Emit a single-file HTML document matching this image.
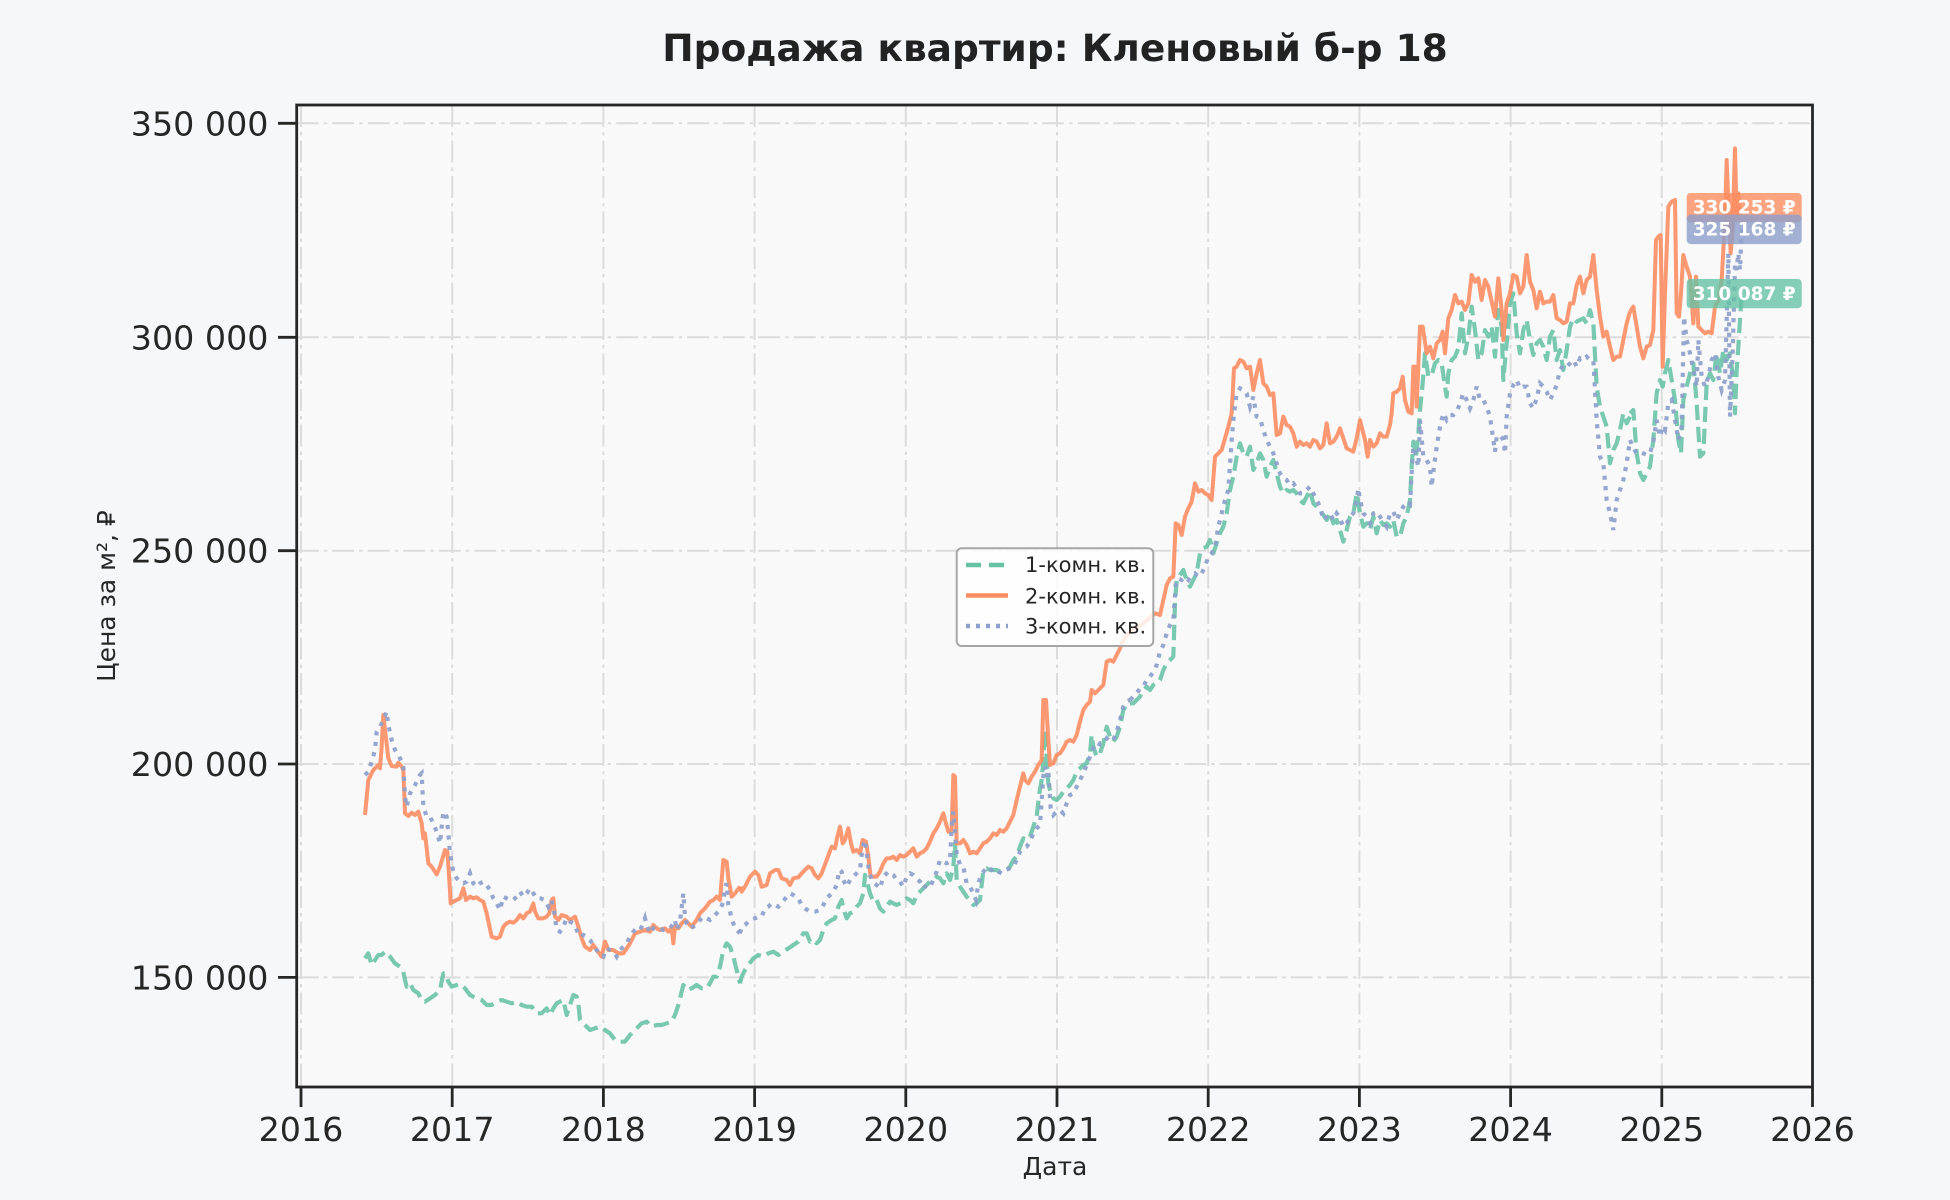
<!DOCTYPE html>
<html><head><meta charset="utf-8"><style>
html,body{margin:0;padding:0;background:#f5f7fa;}
svg{display:block;}
text{font-family:"DejaVu Sans","Liberation Sans",sans-serif;}
</style></head><body>
<svg width="1950" height="1200" viewBox="0 0 1950 1200" xmlns="http://www.w3.org/2000/svg">
<rect x="0" y="0" width="1950" height="1200" fill="#f5f7fa"/>
<rect x="296.7" y="105" width="1515.8" height="982" fill="#f9f9f9"/>
<!-- grid -->
<g stroke="#dcdcdc" stroke-width="2" stroke-dasharray="22 5 3.5 5" fill="none">
<line x1="296.7" x2="1812.5" y1="123.3" y2="123.3"/>
<line x1="296.7" x2="1812.5" y1="337.3" y2="337.3"/>
<line x1="296.7" x2="1812.5" y1="550.7" y2="550.7"/>
<line x1="296.7" x2="1812.5" y1="764" y2="764"/>
<line x1="296.7" x2="1812.5" y1="977.4" y2="977.4"/>
<line x1="301" x2="301" y1="105" y2="1087"/>
<line x1="452.2" x2="452.2" y1="105" y2="1087"/>
<line x1="603.4" x2="603.4" y1="105" y2="1087"/>
<line x1="754.6" x2="754.6" y1="105" y2="1087"/>
<line x1="905.8" x2="905.8" y1="105" y2="1087"/>
<line x1="1057" x2="1057" y1="105" y2="1087"/>
<line x1="1208.2" x2="1208.2" y1="105" y2="1087"/>
<line x1="1359.4" x2="1359.4" y1="105" y2="1087"/>
<line x1="1510.6" x2="1510.6" y1="105" y2="1087"/>
<line x1="1661.8" x2="1661.8" y1="105" y2="1087"/>
</g>

<!-- GREEN 1-комн -->
<g fill="none" stroke="#66c2a5" stroke-opacity="0.88" stroke-width="12.5" stroke-dasharray="46 20" stroke-linejoin="round">
<polyline transform="translate(340,680) scale(0.333333)" points="75,835 85,820 95,855 105,840 115,825 125,825 135,815 150,830 165,850 180,860 190,875 195,900 200,920 210,910 220,930 235,940 245,960 255,965 270,955 285,945 300,930 310,880 318,885 325,905 335,920 350,915 360,912 375,925 390,945 410,955 425,960 440,975 455,975 470,965 485,960 500,965 515,970 530,965 545,975 560,980 575,980 590,1000 605,1000 620,985 630,1005 640,985 650,970 660,965 670,960 680,1005 690,975 700,945 710,950 715,970 720,1020 735,1035 750,1050 765,1045 780,1040 795,1050 810,1060 825,1080 840,1085 855,1085 870,1065 890,1045 905,1030 920,1025 935,1040 950,1035 965,1035 980,1030 995,1025 1005,1005 1015,975 1025,935 1030,915 1040,930 1055,925 1070,915 1085,925 1100,925 1110,910 1120,890 1130,890 1140,860 1150,810 1160,790 1170,800 1180,830 1190,870 1200,910"/>
<polyline transform="translate(720,640) scale(0.333333)" points="60,1030 65,1010 75,990 85,975 100,955 115,945 130,950 145,940 160,935 175,945 190,935 205,925 220,915 235,905 250,880 260,880 270,905 280,900 290,910 300,900 310,870 320,850 335,840 345,835 355,800 365,780 370,805 380,835 390,820 400,815 410,800 420,790 430,760 435,705 440,720 450,760 460,785 470,780 480,805 490,815 500,800 510,785 520,790 530,795 540,790 550,785 560,775 570,780 580,790 590,765 600,755 610,745 620,735 630,725 640,720 650,710 660,715 670,730 680,700 690,720 700,680 705,610 710,720 720,740 730,755 740,770 750,780 760,795 770,790 780,780 790,690 800,685 810,690 820,690 830,690 840,695 850,690 860,690 870,680 880,660 890,650 900,620 910,595 920,600 930,590 940,560 950,530 958,460 965,420 970,360 975,270 980,360 985,430 990,450 1000,475 1010,480 1020,470 1030,455 1040,445 1050,435 1060,420 1070,395 1080,385 1090,375 1100,370 1110,340 1115,285 1120,320 1130,350 1140,340 1150,310 1160,260 1170,290 1180,305 1190,290 1200,260 1210,210 1220,195 1230,190"/>
<polyline transform="translate(1130,260) scale(0.333333)" points="0,1330 10,1330 20,1320 30,1310 40,1290 50,1280 60,1290 70,1275 80,1270 90,1260 100,1230 110,1210 120,1200 130,1190 135,1030 140,960 150,945 160,930 170,960 180,980 190,960 200,940 210,880 220,865 230,860 240,840 250,880 260,850 270,820 280,800 290,760 300,690 310,650 320,590 330,550 340,580 350,590 360,560 370,630 380,610 390,580 400,600 410,650 420,620 430,600 440,640 450,680 460,700 470,690 480,695 490,690 500,700 510,720 520,730 530,710 540,690 550,730 560,740 570,750 580,765 590,780 600,760 610,790 620,780 630,810 640,845 650,810 660,770 670,760 680,700 690,760 700,800 710,790 720,810 730,770 740,820 750,780 760,795 770,790 780,800 790,780 800,830 810,830 820,790 830,770 840,720 845,620 850,545 858,590 865,520 870,450 878,370 885,280 895,350 905,345 915,310 925,300 935,310 945,380 950,410 955,340 965,300 975,290 985,265 995,160 1005,280 1015,230 1025,140 1035,210 1045,300 1055,280 1065,210 1075,230 1085,200 1095,290 1105,150 1115,200 1120,360 1130,250 1140,130 1150,100 1160,220 1170,280 1180,210 1190,180 1200,240 1210,285 1220,250 1230,240 1240,260 1250,300 1260,230 1270,210 1280,300 1290,270 1300,330 1310,270 1320,200 1330,175 1340,185 1350,180 1360,175 1370,190 1380,150 1390,190 1400,380 1410,440 1420,470 1430,500 1440,610 1450,570 1460,550 1470,510 1480,460 1490,490 1500,470"/>
<polyline transform="translate(1480,120) scale(0.333333)" points="450,880 460,870 470,1000 480,1060 490,1080 500,1060 510,1040 520,960 530,820 540,780 548,800 555,760 565,720 575,780 585,840 595,960 603,1000 610,840 620,800 630,760 640,730 650,850 660,1010 670,1000 680,790 690,760 700,780 710,700 720,760 730,690 740,720 750,700 760,780 765,880 770,750 775,680 780,600 785,521"/>
</g>

<!-- ORANGE 2-комн -->
<g fill="none" stroke="#fc8d62" stroke-opacity="0.9" stroke-width="12" stroke-linejoin="round">
<polyline transform="translate(340,680) scale(0.333333)" points="75,405 85,300 100,270 115,255 120,265 125,200 130,105 135,150 145,235 155,258 170,260 175,248 185,260 190,270 195,400 205,408 215,398 225,405 235,395 245,430 250,475 255,460 265,550 275,560 290,583 300,560 315,510 322,515 328,600 332,670 340,665 350,660 360,655 370,625 378,660 390,650 400,655 410,652 420,660 430,665 440,700 455,770 470,775 480,770 490,740 500,730 510,725 520,728 530,720 540,705 550,715 560,700 570,695 580,670 585,695 595,715 610,715 620,710 628,700 635,660 640,655 645,710 655,720 665,705 680,710 690,720 705,710 715,740 725,775 735,800 750,810 760,795 770,810 785,830 795,785 805,810 820,810 835,820 850,820 860,805 870,790 885,760 900,755 915,750 930,755 940,735 950,745 960,750 975,745 985,755 995,745 1000,790 1005,740 1015,745 1025,730 1035,720 1045,730 1055,740 1070,720 1080,700 1095,685 1110,665 1120,660 1130,650 1140,660 1150,540 1160,545 1165,595 1175,650 1185,640 1200,620"/>
<polyline transform="translate(720,640) scale(0.333333)" points="60,740 65,755 75,740 90,710 105,695 115,705 125,740 140,735 150,700 165,690 175,690 185,715 200,720 210,735 220,715 235,712 245,700 255,690 265,680 275,685 285,705 295,715 305,700 320,660 335,620 345,625 352,590 360,560 368,610 375,600 385,565 393,610 400,635 410,630 420,640 428,600 438,605 445,650 452,710 460,710 470,710 480,695 490,670 500,655 510,655 520,650 530,660 540,645 550,650 560,645 570,635 580,625 590,650 600,640 610,635 620,625 630,605 640,580 650,565 660,545 670,520 675,540 685,575 695,570 700,405 705,410 710,610 720,610 730,600 740,615 750,640 760,635 770,640 780,625 790,610 800,605 810,595 820,580 830,585 840,570 850,575 860,565 870,545 880,525 890,480 900,440 910,400 915,420 925,430 935,410 945,395 955,375 965,360 970,180 978,180 985,300 990,375 1000,370 1010,345 1020,340 1030,325 1040,305 1050,300 1060,305 1070,285 1080,245 1090,210 1100,195 1110,185 1115,150 1125,160 1135,150 1145,140 1150,135 1160,65 1170,60 1180,65 1190,45 1200,25 1210,0 1230,-24"/>
<polyline transform="translate(1130,260) scale(0.333333)" points="0,1116 40,1090 75,1060 90,1065 100,1020 110,975 120,955 130,950 137,790 145,795 155,825 165,770 175,745 185,725 195,670 205,695 215,690 225,700 235,705 245,720 255,590 265,580 275,570 285,535 295,500 305,460 312,325 320,320 330,300 340,305 350,325 360,320 370,390 380,340 390,300 400,370 410,380 420,405 430,400 440,525 450,520 460,470 470,495 480,500 490,520 500,560 510,545 520,555 530,550 540,560 550,540 560,545 570,565 580,555 590,490 600,550 610,545 620,530 630,505 640,535 650,565 660,570 670,575 680,535 690,480 700,520 705,540 713,590 720,540 730,560 740,550 750,520 760,530 770,530 780,495 785,460 790,400 800,395 810,385 818,350 825,420 835,455 845,460 850,320 855,320 860,440 870,200 878,200 890,280 900,260 910,295 920,250 930,240 938,215 945,280 955,175 965,150 975,105 985,130 995,125 1005,150 1015,130 1025,45 1035,65 1045,55 1055,120 1065,60 1075,80 1085,125 1095,170 1105,55 1115,150 1120,240 1130,130 1140,100 1150,45 1160,50 1170,100 1180,80 1190,-15 1200,65 1210,90 1220,145 1230,95 1240,130 1250,125 1260,125 1270,105 1280,175 1290,180 1300,190 1310,185 1320,130 1330,130 1340,75 1350,50 1360,100 1370,60 1380,50 1390,-15 1400,90 1410,170 1420,230 1430,215 1440,260 1450,300 1460,290 1470,290 1480,240 1490,190 1500,155"/>
<polyline transform="translate(1480,120) scale(0.333333)" points="450,575 460,560 470,620 480,680 490,715 500,680 510,675 520,630 528,360 535,350 542,345 548,740 555,520 565,260 575,245 585,240 590,580 597,590 603,520 610,405 620,440 630,470 640,610 648,470 655,620 665,630 675,640 685,635 695,640 705,560 715,540 725,480 735,300 740,120 745,250 752,400 758,330 765,85 770,300 775,220 780,280 785,263"/>
</g>

<!-- BLUE 3-комн -->
<g fill="none" stroke="#8da0cb" stroke-opacity="0.92" stroke-width="12.5" stroke-dasharray="12.5 19">
<polyline transform="translate(340,680) scale(0.333333)" points="75,285 85,275 95,245 105,210 110,155 120,140 130,120 140,95 145,135 155,180 165,210 175,225 185,245 190,260 195,350 200,380 210,340 220,325 230,305 240,285 245,280 250,380 260,410 270,410 280,430 290,455 300,490 305,440 310,395 320,410 325,460 330,520 340,575 350,595 360,605 370,610 380,605 390,580 400,610 410,620 420,610 430,605 440,615 450,630 460,655 470,670 480,690 490,650 500,655 510,660 520,660 530,650 540,635 550,650 560,640 570,625 580,640 590,655 600,655 615,660 625,680 635,660 645,710 650,750 660,755 670,740 680,715 690,725 700,730 710,750 720,770 730,765 740,770 750,780 760,795 770,810 780,825 790,830 800,805 810,810 820,815 830,830 840,810 850,800 860,790 870,770 880,755 890,745 900,750 910,730 915,715 920,735 930,760 940,745 950,750 960,745 970,750 980,750 990,745 1000,730 1005,720 1010,750 1020,725 1030,640 1035,710 1040,730 1050,745 1060,740 1070,735 1080,720 1090,710 1100,715 1110,720 1120,710 1130,700 1140,690 1150,665 1155,625 1160,610 1165,675 1175,715 1185,745 1200,760"/>
<polyline transform="translate(720,640) scale(0.333333)" points="60,880 65,860 75,855 90,840 105,835 115,830 125,830 135,805 145,800 155,790 165,795 175,800 185,790 200,770 210,760 220,765 235,775 245,795 255,805 270,815 285,815 300,810 310,795 320,775 330,765 340,755 350,735 358,690 365,695 370,720 380,740 390,720 400,710 410,700 420,690 428,620 435,600 440,640 448,700 458,725 470,735 480,745 490,710 505,695 520,705 530,720 540,725 550,740 560,710 570,700 580,705 590,715 600,725 610,745 620,735 630,740 640,720 650,695 660,660 670,665 680,670 690,665 695,560 700,515 705,580 710,640 720,675 730,680 740,730 750,740 760,760 768,780 775,730 785,700 795,690 805,680 815,690 825,685 835,695 845,700 855,690 870,685 880,680 890,660 900,635 910,625 920,620 930,605 940,580 950,565 960,555 970,410 975,380 980,410 985,390 992,505 1000,525 1010,515 1020,510 1030,520 1040,490 1050,465 1060,460 1070,440 1080,420 1090,400 1100,375 1110,350 1120,325 1130,330 1140,310 1150,310 1160,295 1170,305 1180,300 1190,275 1200,240 1210,200 1220,185 1230,180"/>
<polyline transform="translate(1130,260) scale(0.333333)" points="0,1320 10,1310 20,1300 30,1285 40,1280 50,1260 60,1250 70,1235 80,1215 90,1175 100,1155 110,1120 120,1095 130,1080 137,975 145,955 155,960 165,950 175,960 185,945 195,940 205,950 215,940 225,920 235,890 245,880 255,860 265,800 275,760 285,720 295,690 305,540 312,460 320,400 330,385 340,390 350,400 360,440 370,410 380,470 390,475 400,510 410,540 420,560 430,580 440,610 450,640 460,655 470,660 480,675 490,670 500,685 510,700 520,700 530,690 540,680 550,700 560,720 570,740 580,780 590,770 600,760 610,780 620,760 630,775 640,800 650,790 660,770 670,760 680,720 685,685 690,720 700,760 710,770 720,790 730,760 740,755 750,770 760,785 770,800 780,760 790,755 800,780 810,760 820,740 830,730 840,735 845,640 850,560 858,590 865,620 870,480 880,590 890,600 900,620 905,680 912,620 920,560 930,500 940,460 950,480 960,465 970,465 980,455 990,430 1000,400 1010,420 1020,445 1030,420 1040,380 1050,420 1060,420 1070,440 1080,470 1090,540 1095,575 1100,530 1110,525 1120,540 1125,580 1130,470 1140,400 1150,375 1160,360 1170,385 1180,380 1190,380 1200,430 1210,445 1220,415 1230,370 1240,380 1250,395 1260,420 1270,400 1280,375 1290,330 1300,315 1310,320 1320,310 1330,300 1340,320 1350,295 1360,300 1370,290 1380,300 1390,300 1400,480 1410,590 1420,610 1430,720 1440,760 1450,810 1460,720 1470,690 1480,660 1490,610 1500,540"/>
<polyline transform="translate(1480,120) scale(0.333333)" points="450,960 460,985 470,1000 480,995 490,1000 500,1005 510,1000 520,965 530,900 540,950 548,920 555,930 565,850 575,840 585,900 595,960 605,920 612,590 620,660 630,700 640,750 650,800 655,660 665,770 675,800 685,770 695,720 705,700 715,770 725,810 735,780 740,600 745,400 750,890 758,700 765,430 770,450 775,400 780,450 785,328"/>
</g>

<!-- annotation boxes -->
<rect x="1686.7" y="193" width="115" height="29.3" rx="4" fill="#fc8d62" fill-opacity="0.8"/>
<text x="1692.7" y="213.5" font-size="18.5" font-weight="bold" fill="#ffffff">330 253 ₽</text>
<rect x="1686.7" y="214.6" width="115" height="29.5" rx="4" fill="#8da0cb" fill-opacity="0.82"/>
<text x="1692.7" y="235.5" font-size="18.5" font-weight="bold" fill="#ffffff">325 168 ₽</text>
<rect x="1686.7" y="279" width="115" height="29.3" rx="4" fill="#66c2a5" fill-opacity="0.8"/>
<text x="1692.7" y="300" font-size="18.5" font-weight="bold" fill="#ffffff">310 087 ₽</text>

<!-- legend -->
<rect x="956.7" y="548.3" width="196.6" height="97.7" rx="5" fill="#ffffff" fill-opacity="0.82" stroke="#a6a6a6" stroke-width="2"/>
<line x1="966" x2="1008" y1="565" y2="565" stroke="#66c2a5" stroke-width="4.5" stroke-dasharray="15 8"/>
<line x1="966" x2="1008" y1="595.5" y2="595.5" stroke="#fc8d62" stroke-width="4.5"/>
<line x1="966" x2="1008" y1="626" y2="626" stroke="#8da0cb" stroke-width="4.5" stroke-dasharray="4 6"/>
<g font-size="21" fill="#262626">
<text x="1025" y="572">1-комн. кв.</text>
<text x="1025" y="603.5">2-комн. кв.</text>
<text x="1025" y="633.5">3-комн. кв.</text>
</g>

<!-- spines -->
<rect x="296.7" y="105" width="1515.8" height="982" fill="none" stroke="#262626" stroke-width="2.8"/>
<!-- ticks -->
<g stroke="#262626" stroke-width="2.8">
<line x1="278" x2="296.7" y1="123.3" y2="123.3"/>
<line x1="278" x2="296.7" y1="337.3" y2="337.3"/>
<line x1="278" x2="296.7" y1="550.7" y2="550.7"/>
<line x1="278" x2="296.7" y1="764" y2="764"/>
<line x1="278" x2="296.7" y1="977.4" y2="977.4"/>
<line x1="301" x2="301" y1="1087" y2="1107"/>
<line x1="452.2" x2="452.2" y1="1087" y2="1107"/>
<line x1="603.4" x2="603.4" y1="1087" y2="1107"/>
<line x1="754.6" x2="754.6" y1="1087" y2="1107"/>
<line x1="905.8" x2="905.8" y1="1087" y2="1107"/>
<line x1="1057" x2="1057" y1="1087" y2="1107"/>
<line x1="1208.2" x2="1208.2" y1="1087" y2="1107"/>
<line x1="1359.4" x2="1359.4" y1="1087" y2="1107"/>
<line x1="1510.6" x2="1510.6" y1="1087" y2="1107"/>
<line x1="1661.8" x2="1661.8" y1="1087" y2="1107"/>
<line x1="1812.5" x2="1812.5" y1="1087" y2="1107"/>
</g>
<g font-size="33.3" fill="#262626" text-anchor="end">
<text x="268.5" y="135.3">350 000</text>
<text x="268.5" y="349.3">300 000</text>
<text x="268.5" y="562.7">250 000</text>
<text x="268.5" y="776">200 000</text>
<text x="268.5" y="989.4">150 000</text>
</g>
<g font-size="33.3" fill="#262626" text-anchor="middle">
<text x="301" y="1141">2016</text>
<text x="452.2" y="1141">2017</text>
<text x="603.4" y="1141">2018</text>
<text x="754.6" y="1141">2019</text>
<text x="905.8" y="1141">2020</text>
<text x="1057" y="1141">2021</text>
<text x="1208.2" y="1141">2022</text>
<text x="1359.4" y="1141">2023</text>
<text x="1510.6" y="1141">2024</text>
<text x="1661.8" y="1141">2025</text>
<text x="1812.5" y="1141">2026</text>
</g>
<text x="1055" y="1175" font-size="25" fill="#262626" text-anchor="middle">Дата</text>
<text transform="translate(115,596) rotate(-90)" font-size="25" fill="#262626" text-anchor="middle">Цена за м², ₽</text>
<text x="1055" y="61" font-size="37.5" font-weight="bold" fill="#222222" text-anchor="middle">Продажа квартир: Кленовый б-р 18</text>
</svg>
</body></html>
